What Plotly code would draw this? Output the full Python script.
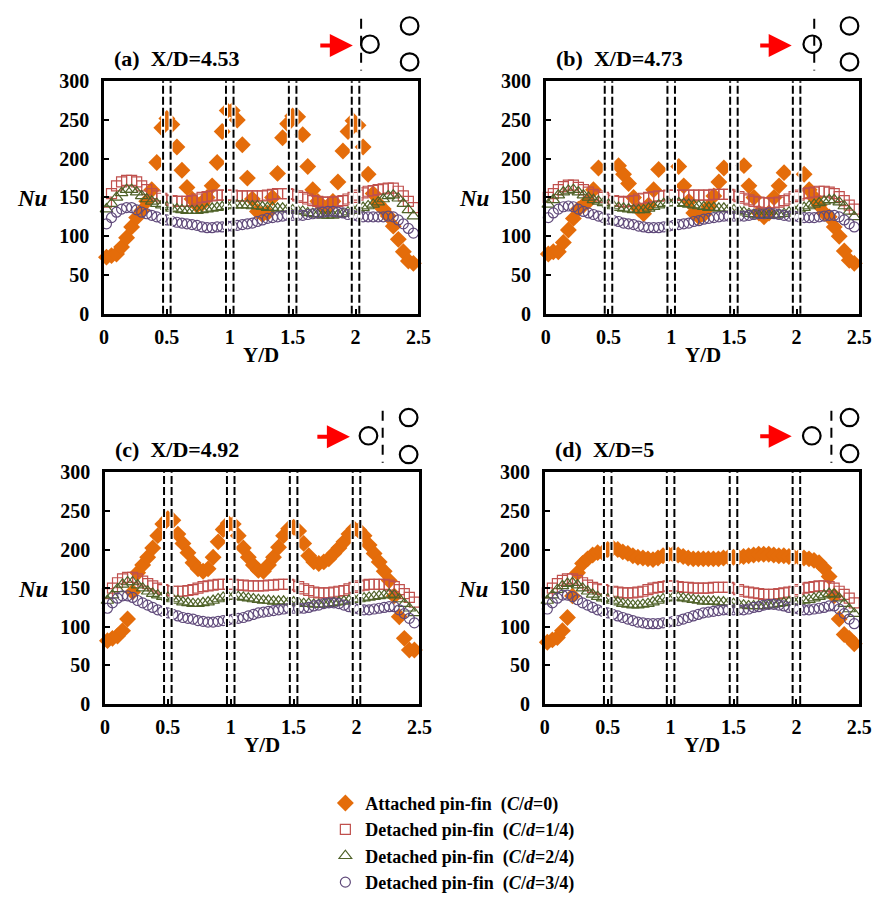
import plotly.graph_objects as go

# ---------------- data ----------------
Y_D = [0.02, 0.06, 0.10, 0.14, 0.18, 0.22, 0.26, 0.30, 0.34, 0.38,
       0.42, 0.46, 0.50, 0.54, 0.58, 0.62, 0.66, 0.70, 0.74, 0.78,
       0.82, 0.86, 0.90, 0.94, 0.98, 1.02, 1.06, 1.10, 1.14, 1.18,
       1.22, 1.26, 1.30, 1.34, 1.38, 1.42, 1.46, 1.50, 1.54, 1.58,
       1.62, 1.66, 1.70, 1.74, 1.78, 1.82, 1.86, 1.90, 1.94, 1.98,
       2.02, 2.06, 2.10, 2.14, 2.18, 2.22, 2.26, 2.30, 2.34, 2.38,
       2.42, 2.46]

# (a) X/D = 4.53
a_att = [73, 75, 77, 86, 98, 112, 124, 133, 145, 160,
         195, 240, 252, 244, 215, 185, 163, 148, 140, 142,
         150, 165, 195, 235, 262, 262, 250, 218, 175, 148,
         132, 128, 130, 150, 181, 227, 245, 255, 254, 231,
         190, 160, 145, 138, 137, 145, 170, 210, 235, 249,
         243, 215, 180, 155, 142, 135, 126, 113, 96, 80,
         68, 65]
a_c14 = [144, 155, 165, 170, 172, 172, 170, 165, 160, 155,
         152, 149, 147, 146, 145, 145, 145, 146, 148, 150,
         151, 152, 153, 153, 153, 153, 152, 152, 152, 152,
         152, 152, 153, 154, 155, 155, 155, 154, 152, 150,
         148, 146, 145, 144, 144, 144, 145, 146, 148, 150,
         153, 156, 158, 159, 160, 161, 162, 162, 158, 152,
         145, 137]
a_c24 = [135, 142, 150, 156, 160, 160, 157, 152, 148, 145,
         142, 140, 138, 136, 135, 134, 133, 133, 133, 134,
         135, 136, 137, 138, 139, 140, 140, 140, 140, 139,
         139, 138, 137, 137, 136, 136, 135, 134, 133, 132,
         130, 129, 128, 127, 127, 127, 128, 129, 131, 133,
         135, 137, 139, 141, 144, 148, 152, 153, 149, 142,
         134, 126]
a_c34 = [116, 124, 131, 135, 137, 137, 134, 131, 129, 127,
         125, 123, 121, 119, 118, 117, 116, 115, 114, 112,
         111, 111, 112, 112, 113, 113, 114, 115, 116, 117,
         119, 121, 123, 124, 125, 126, 127, 127, 127, 127,
         128, 129, 130, 131, 132, 132, 131, 130, 128, 127,
         126, 125, 125, 125, 125, 125, 126, 125, 121, 116,
         110, 104]

# (b) X/D = 4.73  (no data where the attached pin sits)
b_att = [77, 80, 80, 92, 108, 123, 135, 140, 145, 160,
         188, None, None, None, 191, 180, 168, 150, 135, 129,
         140, 160, 186, None, None, None, 190, 165, 145, 130,
         125, 128, 138, 152, 170, 188, None, None, None, 191,
         165, 150, 130, 125, 130, 150, 165, 182, None, None,
         None, 180, 160, 150, 140, 130, 125, 112, 100, 81,
         69, 65]
b_c14 = [150, 155, 160, 164, 166, 166, 163, 160, 157, 154,
         152, 150, 148, 146, 145, 144, 145, 146, 148, 149,
         150, 151, 152, 152, 153, 153, 153, 153, 153, 153,
         153, 153, 153, 154, 154, 154, 154, 153, 151, 149,
         147, 145, 144, 143, 143, 143, 144, 146, 148, 151,
         153, 155, 156, 157, 158, 158, 157, 155, 151, 146,
         140, 135]
b_c24 = [141, 147, 153, 157, 159, 160, 157, 153, 150, 147,
         145, 143, 141, 139, 137, 136, 135, 134, 134, 134,
         136, 138, 140, 142, 143, 143, 143, 142, 141, 140,
         139, 138, 137, 137, 136, 136, 135, 134, 133, 131,
         129, 128, 127, 127, 127, 127, 128, 129, 131, 133,
         135, 137, 139, 141, 143, 145, 147, 147, 144, 139,
         132, 125]
b_c34 = [124, 130, 135, 138, 139, 138, 135, 132, 130, 128,
         126, 124, 122, 120, 119, 117, 116, 115, 113, 112,
         111, 111, 111, 112, 113, 114, 115, 116, 117, 119,
         120, 122, 123, 124, 125, 126, 126, 126, 126, 126,
         127, 128, 129, 129, 130, 129, 128, 127, 126, 126,
         125, 124, 124, 124, 125, 126, 127, 127, 125, 121,
         116, 112]

# (c) X/D = 4.92
c_att = [82, 85, 88, 95, 110, 145, 170, 180, 190, 202,
         218, 233, 240, 238, 220, 208, 196, 183, 175, 172,
         175, 190, 210, 226, 234, 233, 218, 202, 190, 180,
         173, 172, 180, 190, 203, 218, 227, 229, 224, 208,
         192, 184, 182, 184, 188, 195, 202, 210, 220, 227,
         225, 218, 206, 195, 184, 172, 160, 140, 113, 85,
         70, 70]
c_c14 = [143, 150, 157, 162, 164, 164, 162, 159, 156, 153,
         150, 148, 147, 146, 146, 146, 147, 148, 150, 152,
         153, 154, 155, 155, 155, 155, 154, 154, 153, 153,
         153, 153, 154, 154, 155, 155, 155, 154, 152, 149,
         147, 145, 144, 144, 144, 145, 146, 147, 149, 151,
         153, 154, 155, 155, 155, 155, 154, 152, 148, 143,
         138, 132]
c_c24 = [134, 141, 149, 155, 158, 158, 154, 150, 146, 143,
         141, 139, 138, 136, 134, 132, 131, 130, 130, 131,
         132, 134, 136, 138, 139, 139, 139, 138, 137, 136,
         135, 134, 134, 133, 133, 133, 132, 132, 131, 130,
         130, 129, 129, 129, 130, 131, 132, 133, 134, 135,
         136, 137, 138, 139, 140, 141, 142, 141, 136, 130,
         124, 118]
c_c34 = [124, 131, 137, 140, 140, 138, 134, 131, 128, 125,
         122, 120, 118, 116, 114, 112, 111, 110, 108, 107,
         106, 106, 107, 108, 109, 110, 111, 112, 114, 116,
         118, 119, 120, 121, 122, 123, 124, 124, 124, 124,
         125, 127, 128, 130, 131, 131, 130, 128, 126, 124,
         123, 122, 122, 123, 124, 125, 126, 126, 122, 117,
         111, 105]

# (d) X/D = 5
d_att = [80, 83, 86, 95, 112, 140, 170, 182, 188, 193,
         196, 196, 200, 202, 200, 197, 195, 192, 190, 189,
         188, 187, 189, 192, 194, 194, 193, 191, 189, 188,
         188, 188, 188, 188, 188, 189, 190, 190, 190, 191,
         192, 193, 194, 194, 194, 193, 192, 192, 191, 190,
         190, 189, 188, 186, 183, 176, 165, 140, 110, 90,
         85, 78]
d_c14 = [144, 150, 156, 160, 162, 162, 160, 157, 154, 151,
         149, 148, 147, 146, 145, 144, 144, 144, 145, 146,
         148, 150, 151, 152, 153, 153, 152, 151, 151, 150,
         150, 150, 150, 151, 151, 151, 151, 150, 148, 146,
         145, 144, 143, 142, 142, 142, 143, 144, 145, 146,
         148, 150, 151, 152, 153, 153, 152, 150, 146, 142,
         137, 131]
d_c24 = [134, 141, 148, 153, 156, 157, 154, 150, 146, 142,
         139, 137, 136, 134, 132, 130, 129, 128, 128, 129,
         130, 132, 134, 136, 137, 138, 138, 137, 136, 135,
         134, 133, 133, 133, 132, 132, 131, 130, 129, 128,
         127, 127, 127, 127, 128, 129, 130, 131, 132, 132,
         133, 134, 135, 137, 139, 141, 143, 142, 137, 130,
         123, 117]
d_c34 = [123, 131, 137, 141, 141, 139, 135, 131, 128, 125,
         122, 120, 118, 116, 114, 112, 110, 108, 106, 105,
         104, 104, 104, 105, 106, 107, 108, 110, 112, 114,
         116, 118, 119, 120, 121, 122, 122, 122, 122, 122,
         123, 125, 126, 128, 129, 129, 128, 127, 125, 124,
         123, 122, 122, 123, 124, 125, 127, 127, 123, 117,
         110, 104]

PANEL_TITLES = ["(a)\u00a0\u00a0X/D=4.53", "(b)\u00a0\u00a0X/D=4.73",
                "(c)\u00a0\u00a0X/D=4.92", "(d)\u00a0\u00a0X/D=5"]
SERIES_NAMES = [
    "<b>Attached pin-fin\u00a0\u00a0(<i>C</i>/<i>d</i>=0)</b>",
    "<b>Detached pin-fin\u00a0\u00a0(<i>C</i>/<i>d</i>=1/4)</b>",
    "<b>Detached pin-fin\u00a0\u00a0(<i>C</i>/<i>d</i>=2/4)</b>",
    "<b>Detached pin-fin\u00a0\u00a0(<i>C</i>/<i>d</i>=3/4)</b>",
]
PIN_EDGES = [0.47, 0.53, 0.97, 1.03, 1.47, 1.53, 1.97, 2.03]
X_TICKS = [0, 0.5, 1, 1.5, 2, 2.5]
X_TICK_TEXT = ["0", "0.5", "1", "1.5", "2", "2.5"]
Y_TICKS = [0, 50, 100, 150, 200, 250, 300]

PANELS = [
    [a_att, a_c14, a_c24, a_c34],
    [b_att, b_c14, b_c24, b_c34],
    [c_att, c_c14, c_c24, c_c34],
    [d_att, d_c14, d_c24, d_c34],
]

# ---------------- styling ----------------
W, H = 887, 901
FONT = "Liberation Serif"
ORANGE = "#E46C0A"
RED = "#C0504D"
GREEN = "#4F6228"
PURPLE = "#604A7B"

STYLES = [
    dict(symbol="diamond", size=13, color=ORANGE, line=dict(width=0)),
    dict(symbol="square-open", size=10, color=RED, line=dict(width=1.2)),
    dict(symbol="triangle-up-open", size=11, color=GREEN, line=dict(width=1.2)),
    dict(symbol="circle-open", size=10, color=PURPLE, line=dict(width=1.2)),
]

def px(x):
    return x / W

def py(y):
    return 1 - y / H

# panel frames in pixels: (left, right, top, bottom)
FRAMES = [(101, 422, 73, 315), (552, 872, 73, 315),
          (102, 423, 480, 721), (551, 872, 480, 721)]

fig = go.Figure()

for p, series in enumerate(PANELS):
    ax = "" if p == 0 else str(p + 1)
    for s, vals in enumerate(series):
        fig.add_trace(go.Scatter(
            x=Y_D, y=vals, mode="markers",
            name=SERIES_NAMES[s],
            marker=STYLES[s],
            showlegend=(p == 0),
            xaxis="x" + ax, yaxis="y" + ax,
            cliponaxis=False,
        ))

layout = dict(
    width=W, height=H,
    margin=dict(l=0, r=0, t=0, b=0),
    paper_bgcolor="white", plot_bgcolor="white",
    font=dict(family=FONT, color="black"),
    showlegend=True,
    legend=dict(x=px(327), y=py(805), xanchor="left", yanchor="top",
                font=dict(family=FONT, size=18, color="black"),
                bgcolor="rgba(0,0,0,0)", tracegroupgap=0, itemwidth=30),
)

shapes = []
annotations = []

for p, (l, r, t, b) in enumerate(FRAMES):
    ax = "" if p == 0 else str(p + 1)
    xk = "xaxis" + ax
    yk = "yaxis" + ax
    layout[xk] = dict(domain=[px(l), px(r)], anchor="y" + ax, range=[0, 2.5],
                      tickvals=X_TICKS, ticktext=X_TICK_TEXT,
                      ticks="inside", ticklen=5, tickwidth=1.5, tickcolor="black",
                      ticklabelstandoff=3,
                      showline=True, mirror=True, linewidth=2.5, linecolor="black",
                      showgrid=False, zeroline=False,
                      tickfont=dict(family=FONT, size=20, weight="bold", color="black"))
    layout[yk] = dict(domain=[py(b), py(t)], anchor="x" + ax, range=[0, 300],
                      tickvals=Y_TICKS,
                      ticks="inside", ticklen=5, tickwidth=1.5, tickcolor="black",
                      ticklabelstandoff=8,
                      showline=True, mirror=True, linewidth=2.5, linecolor="black",
                      showgrid=False, zeroline=False,
                      tickfont=dict(family=FONT, size=20, weight="bold", color="black"))
    for xe in PIN_EDGES:
        shapes.append(dict(type="line", xref="x" + ax, yref="y" + ax + " domain",
                           x0=xe, x1=xe, y0=0, y1=1, layer="above",
                           line=dict(color="white", width=4)))
        shapes.append(dict(type="line", xref="x" + ax, yref="y" + ax + " domain",
                           x0=xe, x1=xe, y0=0, y1=1, layer="above",
                           line=dict(color="black", width=2, dash="8px,3px")))
    cx = (l + r) / 2
    annotations.append(dict(text="<b>Y/D</b>", x=px(cx), y=py(b + 43), xref="paper", yref="paper",
                            showarrow=False, font=dict(family=FONT, size=21, color="black"),
                            xanchor="center", yanchor="middle"))
    annotations.append(dict(text="<b><i>Nu</i></b>", x=px(l - 73), y=py((t + b) / 2 + 1),
                            xref="paper", yref="paper",
                            showarrow=False, font=dict(family=FONT, size=23, color="black"),
                            xanchor="center", yanchor="middle"))
    annotations.append(dict(text="<b>" + PANEL_TITLES[p] + "</b>", x=px(l + 8), y=py(t - 24),
                            xref="paper", yref="paper",
                            showarrow=False, font=dict(family=FONT, size=22, color="black"),
                            xanchor="left", yanchor="middle"))

# schematic insets: center circle, dashed line, right circles, arrow (x0, x1, y) in pixels
SCHEM = [
    dict(c=(372.5, 34.5), dl=(363.5, 8, 62), rc=(413, 15.5, 53), ar=(321, 355, 36)),
    dict(c=(824, 34.5), dl=(826, 8, 62), rc=(862, 15.5, 53), ar=(770, 803, 36)),
    dict(c=(371, 442), dl=(385.5, 416, 470), rc=(412, 423, 461.5), ar=(318, 352, 443)),
    dict(c=(823.5, 442), dl=(843.5, 416, 470), rc=(862, 423, 460.5), ar=(770, 803, 442.5)),
]
R = 9

def circ(cx, cy):
    return dict(type="circle", xref="paper", yref="paper",
                x0=px(cx - R), x1=px(cx + R), y0=py(cy + R), y1=py(cy - R),
                line=dict(color="black", width=2.2), fillcolor="rgba(0,0,0,0)")

for sc in SCHEM:
    shapes.append(circ(*sc["c"]))
    shapes.append(circ(sc["rc"][0], sc["rc"][1]))
    shapes.append(circ(sc["rc"][0], sc["rc"][2]))
    x, y0, y1 = sc["dl"]
    shapes.append(dict(type="line", xref="paper", yref="paper",
                       x0=px(x), x1=px(x), y0=py(y0), y1=py(y1),
                       line=dict(color="black", width=2, dash="10px,7px")))
    ax0, ax1, ay = sc["ar"]
    annotations.append(dict(text="", x=px(ax1), y=py(ay), xref="paper", yref="paper",
                            ax=-(ax1 - ax0), ay=0, axref="pixel", ayref="pixel",
                            showarrow=True, arrowhead=2, arrowsize=1.15, arrowwidth=4,
                            arrowcolor="#FF0000", standoff=0))

layout["shapes"] = shapes
layout["annotations"] = annotations
fig.update_layout(**layout)

fig.write_html("out.html", post_script="document.body.style.margin='0px';")
